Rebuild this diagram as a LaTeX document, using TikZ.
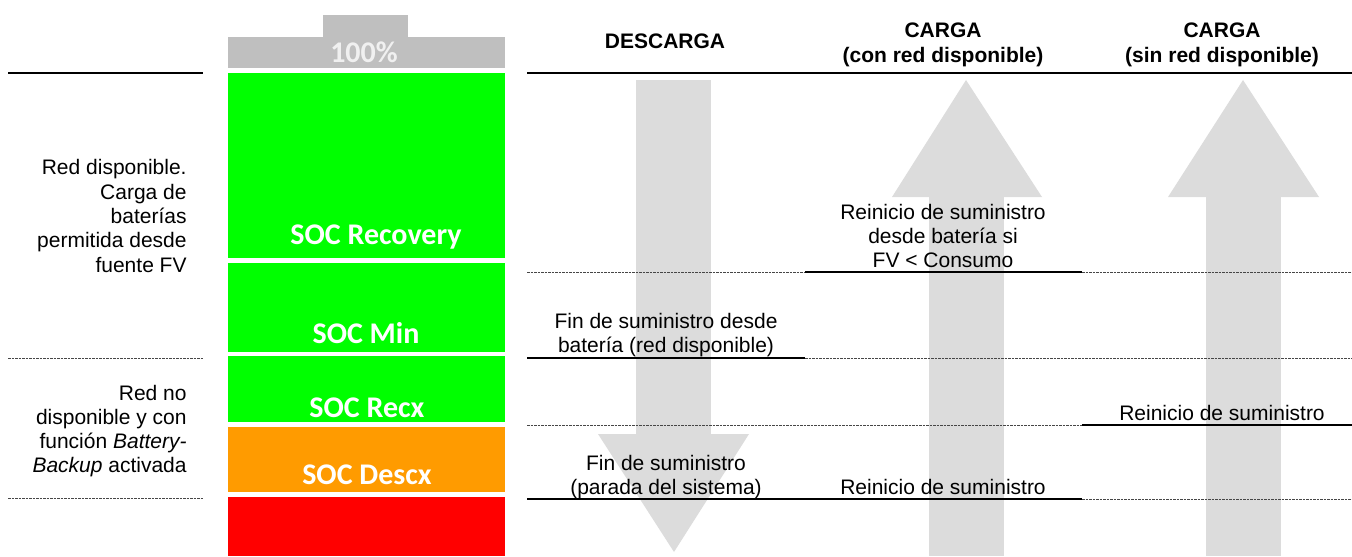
\documentclass[tikz,border=0pt]{standalone}
\usepackage{fontspec}
\setmainfont{Liberation Sans}
\newfontfamily\calibri{Carlito}
\definecolor{flecha}{RGB}{220,220,220}
\definecolor{tapa}{RGB}{191,191,191}
\definecolor{verde}{RGB}{0,255,0}
\definecolor{naranja}{RGB}{255,155,0}
\definecolor{rojo}{RGB}{255,0,0}
\definecolor{guion}{RGB}{70,70,70}
\begin{document}
\begin{tikzpicture}[x=0.5pt,y=-0.5pt,
    texto/.style={font=\fontsize{10.5}{12}\selectfont,align=center,inner sep=0pt},
    cabecera/.style={texto,font=\fontsize{10.5}{12.5}\selectfont\bfseries},
    soc/.style={inner sep=0pt,text=white,font=\calibri\bfseries\fontsize{15}{18}\selectfont},
    solida/.style={line width=1pt},
    discontinua/.style={line width=0.5pt,guion,dash pattern=on 1.25pt off 0.5pt}]
   \useasboundingbox (0,0) rectangle (1352,556);
   % バッテリー
   \fill[tapa] (323,15) rectangle (408,37);
   \fill[tapa] (228,37) rectangle (505,68);
   \node[soc, text=white!94!black, anchor=base] (cien) at (364,63) {100\%};
   \fill[verde] (228,73) rectangle (505,258);
   \fill[verde] (228,263) rectangle (505,352);
   \fill[verde] (228,356) rectangle (505,422);
   \fill[naranja] (228,427) rectangle (505,492);
   \fill[rojo] (228,497) rectangle (505,556);
   \node[soc, anchor=base] (recovery) at (376,244) {SOC Recovery};
   \node[soc, anchor=base] (min) at (366,343) {SOC Min};
   \node[soc, anchor=base] (recx) at (367,417) {SOC Recx};
   \node[soc, anchor=base] (descx) at (367,484) {SOC Descx};

   % 矢印
   \fill[flecha] (636,80) rectangle (711,434);
   \fill[flecha] (598,434) -- (749,434) -- (674,552) -- cycle;
   \fill[flecha] (929,197) rectangle (1004,556);
   \fill[flecha] (892,197) -- (1042,197) -- (966,80) -- cycle;
   \fill[flecha] (1206,197) rectangle (1281,556);
   \fill[flecha] (1168,197) -- (1319,197) -- (1243,80) -- cycle;

   % 見出し
   \node[cabecera, anchor=base] (descarga) at (665,49) {DESCARGA};
   \node[cabecera, anchor=base] (cargacon) at (943,62) {CARGA\\(con red disponible)};
   \node[cabecera, anchor=base] (cargasin) at (1222,62) {CARGA\\(sin red disponible)};

   % 補助線
   \draw[solida] (8,73) -- (203,73);
   \draw[discontinua] (8,358) -- (203,358);
   \draw[discontinua] (8,498) -- (203,498);
   \draw[solida] (527,73) -- (1352,73);
   \draw[discontinua] (527,272) -- (805,272);
   \draw[solida] (805,272) -- (1082,272);
   \draw[discontinua] (1082,272) -- (1352,272);
   \draw[solida] (527,358) -- (805,358);
   \draw[discontinua] (805,358) -- (1352,358);
   \draw[discontinua] (527,425) -- (1082,425);
   \draw[solida] (1082,425) -- (1352,425);
   \draw[solida] (527,499) -- (1082,499);
   \draw[discontinua] (1082,499) -- (1352,499);

   % 説明
   \node[texto, align=right, anchor=base east, font=\fontsize{10.5}{12.15}\selectfont] (redsi) at (187,272)
      {Red disponible.\\Carga de\\baterías\\permitida desde\\fuente FV};
   \node[texto, align=right, anchor=base east] (redno) at (187,472)
      {Red no\\disponible y con\\función \textit{Battery-}\\\textit{Backup} activada};
   \node[texto, anchor=base] (reinicioa) at (943,267)
      {Reinicio de suministro\\desde batería si\\FV < Consumo};
   \node[texto, anchor=base] (finred) at (666,352)
      {Fin de suministro desde\\batería (red disponible)};
   \node[texto, anchor=base] (reiniciob) at (1222,420) {Reinicio de suministro};
   \node[texto, anchor=base] (finparada) at (666,494)
      {Fin de suministro\\(parada del sistema)};
   \node[texto, anchor=base] (reinicioc) at (943,494) {Reinicio de suministro};
\end{tikzpicture}
\end{document}
